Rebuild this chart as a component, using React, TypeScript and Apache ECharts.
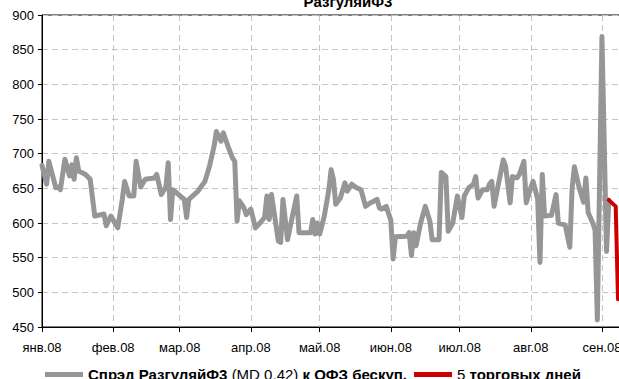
import React, { useEffect, useRef } from "react";
import * as echarts from "echarts";

const titleText = "РазгуляйФ3";
const spreadName = "Спрэд РазгуляйФ3 (MD 0,42) к ОФЗ бескуп.";
const recentName = "5 торговых дней";
const monthLabels = ["янв.08", "фев.08", "мар.08", "апр.08", "май.08", "июн.08", "июл.08", "авг.08", "сен.08"];
const yMin = 450;
const yMax = 900;
const yStep = 50;

const spreadDates = [
  "01-01", "01-03", "01-04", "01-07", "01-08", "01-09", "01-11", "01-13", "01-14", "01-15", "01-16", "01-17", "01-20", "01-22", "01-24", "01-28", "01-29", "01-31",
  "02-03", "02-05", "02-06", "02-08", "02-10", "02-11", "02-13", "02-15", "02-19", "02-20", "02-22", "02-24", "02-25", "02-26", "02-27",
  "03-03", "03-04", "03-05", "03-09", "03-10", "03-12", "03-14", "03-16", "03-17", "03-19", "03-20", "03-22", "03-24", "03-25", "03-26", "03-27", "03-29", "03-30",
  "04-01", "04-03", "04-05", "04-07", "04-08", "04-09", "04-10", "04-13", "04-14", "04-15", "04-17", "04-19", "04-21", "04-22", "04-27", "04-28", "04-29", "04-30",
  "05-01", "05-03", "05-05", "05-06", "05-07", "05-08", "05-10", "05-12", "05-13", "05-15", "05-17", "05-19", "05-21", "05-23", "05-26", "05-27", "05-28", "05-30",
  "06-01", "06-02", "06-03", "06-08", "06-09", "06-10", "06-11", "06-12", "06-14", "06-16", "06-18", "06-19", "06-22", "06-23", "06-25", "06-26", "06-28", "06-30",
  "07-02", "07-03", "07-05", "07-07", "07-08", "07-09", "07-11", "07-13", "07-14", "07-15", "07-16", "07-18", "07-20", "07-21", "07-23", "07-24", "07-26", "07-27", "07-29", "07-30",
  "08-01", "08-02", "08-04", "08-05", "08-06", "08-07", "08-10", "08-12", "08-13", "08-16", "08-18", "08-19", "08-20", "08-22", "08-24", "08-25", "08-26", "08-28", "08-29", "08-30",
  "09-01", "09-03", "09-04",
];
const spreadValues = [
  683, 656, 689, 651, 652, 648, 692, 668, 684, 663, 694, 675, 670, 663, 610, 613, 596, 610,
  593, 634, 660, 639, 639, 689, 652, 663, 665, 670, 641, 652, 687, 605, 648,
  634, 608, 634, 646, 651, 660, 682, 711, 732, 718, 730, 711, 694, 689, 603, 632, 622, 612,
  620, 593, 600, 608, 639, 605, 641, 574, 572, 634, 576, 608, 639, 586, 586, 605, 584, 600,
  584, 610, 648, 677, 663, 627, 636, 658, 646, 656, 651, 648, 624, 629, 634, 622, 620, 624,
  604, 548, 580, 581, 586, 553, 586, 567, 600, 624, 603, 576, 576, 673, 667, 588, 600, 639,
  608, 639, 651, 656, 667, 636, 648, 648, 656, 660, 624, 658, 691, 682, 629, 667, 665, 670, 689, 629,
  651, 660, 634, 543, 670, 610, 611, 641, 600, 597, 565, 650, 681, 652, 630, 665, 615, 600, 590, 460,
  869, 559, 633,
];
const recentDates = ["09-04", "09-07", "09-08"];
const recentValues = [633, 624, 490];

const FONT = "'Liberation Sans Narrow', 'Arial Narrow', 'Liberation Sans', Arial, sans-serif";

function buildCategories(): string[] {
  const out: string[] = [];
  const d = new Date(Date.UTC(2008, 0, 1));
  const end = Date.UTC(2008, 8, 9);
  while (d.getTime() <= end) {
    const m = String(d.getUTCMonth() + 1).padStart(2, "0");
    const day = String(d.getUTCDate()).padStart(2, "0");
    out.push(m + "-" + day);
    d.setUTCDate(d.getUTCDate() + 1);
  }
  return out;
}

function toSeries(cats: string[], dates: string[], values: number[]) {
  const map = new Map<string, number>();
  dates.forEach((d, i) => map.set(d, values[i]));
  return cats.map((c) => (map.has(c) ? (map.get(c) as number) : null));
}

const isMonthStart = (_i: number, v: string) => v.endsWith("-01");

export default function App() {
  const ref = useRef<HTMLDivElement>(null);
  useEffect(() => {
    if (!ref.current) return;
    const chart = echarts.init(ref.current, undefined, { renderer: "svg" });
    const cats = buildCategories();
    chart.setOption({
      animation: false,
      backgroundColor: "#fff",
      textStyle: { fontFamily: FONT },
      grid: {
        left: 42,
        top: 15,
        right: 19.7,
        bottom: 52,
        show: true,
        borderColor: "#000",
        borderWidth: 1,
        backgroundColor: "transparent",
      },
      graphic: [
        {
          type: "text",
          x: 348,
          y: 9,
          style: {
            text: titleText,
            font: "bold 15px " + FONT,
            fill: "#000",
            align: "center",
            verticalAlign: "bottom",
          },
        },
      ],
      legend: {
        left: 40,
        top: 362,
        icon: "rect",
        itemWidth: 38,
        itemHeight: 5,
        itemGap: 7,
        data: [spreadName, recentName],
        formatter: (name: string) =>
          name === spreadName
            ? "{b|Спрэд РазгуляйФ3 }{n|(MD 0,42)}{b| к ОФЗ бескуп.}"
            : "{n|5 }{b|торговых дней}",
        textStyle: {
          fontFamily: FONT,
          fontSize: 15,
          color: "#000",
          rich: {
            b: { fontFamily: FONT, fontSize: 15, fontWeight: "bold", color: "#000" },
            n: { fontFamily: FONT, fontSize: 15, fontWeight: "normal", color: "#000" },
          },
        },
      },
      xAxis: {
        type: "category",
        data: cats,
        boundaryGap: false,
        axisLine: { lineStyle: { color: "#000", width: 1 } },
        axisTick: { show: true, interval: isMonthStart, length: 5, lineStyle: { color: "#000" } },
        axisLabel: {
          interval: isMonthStart,
          formatter: (v: string) => monthLabels[parseInt(v.slice(0, 2), 10) - 1],
          fontFamily: FONT,
          fontSize: 13,
          color: "#000",
          margin: 14,
        },
        splitLine: {
          show: true,
          interval: isMonthStart,
          lineStyle: { color: "#c4c4c4", type: [6, 4], width: 1 },
        },
      },
      yAxis: {
        type: "value",
        min: yMin,
        max: yMax,
        interval: yStep,
        axisLine: { show: true, lineStyle: { color: "#000", width: 1 } },
        axisTick: { show: true, length: 4, lineStyle: { color: "#000" } },
        axisLabel: { fontFamily: FONT, fontSize: 13, color: "#000", margin: 8 },
        splitLine: { show: true, lineStyle: { color: "#c4c4c4", type: [6, 4], width: 1 } },
      },
      series: [
        {
          name: spreadName,
          type: "line",
          data: toSeries(cats, spreadDates, spreadValues),
          connectNulls: true,
          showSymbol: false,
          symbol: "none",
          lineStyle: { color: "#969696", width: 5, join: "round", cap: "round" },
          itemStyle: { color: "#969696" },
          z: 2,
        },
        {
          name: recentName,
          type: "line",
          data: toSeries(cats, recentDates, recentValues),
          connectNulls: true,
          showSymbol: false,
          symbol: "none",
          lineStyle: { color: "#cc0000", width: 4, join: "round", cap: "round" },
          itemStyle: { color: "#cc0000" },
          z: 3,
        },
      ],
    });
    return () => chart.dispose();
  }, []);
  return (
    <div
      style={{ position: "absolute", left: 0, top: 0, width: 619, height: 379, overflow: "hidden" }}
    >
      <div ref={ref} style={{ position: "absolute", left: 0, top: 0, width: 640, height: 379 }} />
    </div>
  );
}
